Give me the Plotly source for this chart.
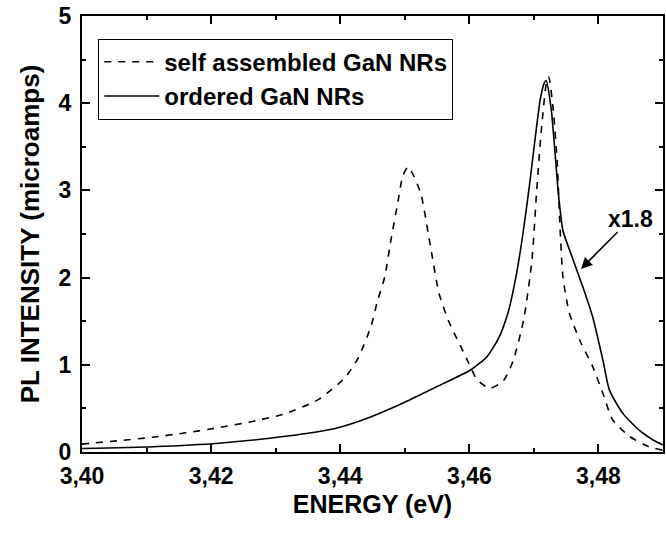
import plotly.graph_objects as go

# Self assembled GaN NRs (dashed)
sa_energy = [3.4000, 3.4012, 3.4058, 3.4110, 3.4161, 3.4212, 3.4264, 3.4315, 3.4366, 3.4407,
             3.4428, 3.4448, 3.4458, 3.4469, 3.4479, 3.4489, 3.4497, 3.4505, 3.4513, 3.4525,
             3.4540, 3.4553, 3.4568, 3.4586, 3.4599, 3.4612, 3.4632, 3.4653, 3.4668, 3.4684,
             3.4697, 3.4704, 3.4712, 3.4720, 3.4723, 3.4730, 3.4736, 3.4740, 3.4745, 3.4755,
             3.4773, 3.4791, 3.4807, 3.4822, 3.4848, 3.4878, 3.4900]
sa_int = [0.09, 0.10, 0.13, 0.17, 0.22, 0.28, 0.35, 0.44, 0.60, 0.85,
          1.08, 1.45, 1.74, 2.01, 2.45, 2.85, 3.17, 3.27, 3.18, 2.96,
          2.35, 1.82, 1.50, 1.22, 1.02, 0.83, 0.73, 0.82, 1.05, 1.51,
          2.20, 2.96, 3.73, 4.26, 4.30, 3.92, 3.34, 2.66, 2.01, 1.59,
          1.25, 0.98, 0.67, 0.37, 0.18, 0.06, 0.02]

# Ordered GaN NRs (solid)
ord_energy = [3.4000, 3.4110, 3.4212, 3.4315, 3.4392, 3.4443, 3.4500, 3.4561, 3.4602, 3.4627,
              3.4645, 3.4660, 3.4672, 3.4683, 3.4693, 3.4702, 3.4710, 3.4716, 3.4719, 3.4727,
              3.4738, 3.4745, 3.4761, 3.4776, 3.4791, 3.4807, 3.4817, 3.4838, 3.4863, 3.4884,
              3.4900]
ord_int = [0.04, 0.06, 0.10, 0.18, 0.27, 0.39, 0.57, 0.79, 0.94, 1.09,
           1.30, 1.60, 2.00, 2.50, 3.05, 3.60, 4.05, 4.23, 4.26, 3.92,
           2.96, 2.54, 2.20, 1.89, 1.55, 1.05, 0.71, 0.44, 0.25, 0.14,
           0.08]

x_tickvals = [3.40, 3.42, 3.44, 3.46, 3.48]
x_ticktext = ["3,40", "3,42", "3,44", "3,46", "3,48"]
y_tickvals = [0, 1, 2, 3, 4, 5]
y_ticktext = ["0", "1", "2", "3", "4", "5"]

FONT = "Liberation Sans, Arial, sans-serif"

fig = go.Figure()
fig.add_trace(go.Scatter(x=sa_energy, y=sa_int, mode="lines", name="self assembled GaN NRs",
                         line=dict(color="black", width=1.6, dash="7px,7px", shape="spline", smoothing=0.6)))
fig.add_trace(go.Scatter(x=ord_energy, y=ord_int, mode="lines", name="ordered GaN NRs",
                         line=dict(color="black", width=1.6, shape="spline", smoothing=0.6)))

axis_common = dict(showline=True, linecolor="black", linewidth=2, mirror="ticks",
                   ticks="inside", tickcolor="black", tickwidth=1.5, ticklen=8,
                   showgrid=False, zeroline=False,
                   tickfont=dict(family=FONT, size=23, color="black", weight="bold"))

fig.update_xaxes(range=[3.40, 3.49], tickvals=x_tickvals, ticktext=x_ticktext,
                 minor=dict(ticks="inside", ticklen=4, dtick=0.01, tick0=3.40, tickcolor="black", tickwidth=1.5),
                 title=dict(text="<b>ENERGY (eV)</b>", font=dict(family=FONT, size=25, color="black"), standoff=8),
                 ticklabelstandoff=2,
                 **axis_common)
fig.update_yaxes(range=[0, 5], tickvals=y_tickvals, ticktext=y_ticktext,
                 minor=dict(ticks="inside", ticklen=4, dtick=0.5, tick0=0, tickcolor="black", tickwidth=1.5),
                 title=dict(text="<b>PL INTENSITY (microamps)</b>", font=dict(family=FONT, size=26, color="black"), standoff=12),
                 ticklabelstandoff=4,
                 **axis_common)

fig.add_annotation(x=3.4773, y=2.10, ax=3.4832, ay=2.54, xref="x", yref="y", axref="x", ayref="y",
                   text="", showarrow=True, arrowhead=2, arrowsize=1.4, arrowwidth=1.6, arrowcolor="black")
fig.add_annotation(x=3.4850, y=2.67, xref="x", yref="y", text="<b>x1.8</b>", showarrow=False,
                   font=dict(family=FONT, size=23, color="black"))

fig.update_layout(
    width=666, height=534,
    margin=dict(l=82, r=1, t=16, b=82),
    paper_bgcolor="white", plot_bgcolor="white",
    showlegend=True,
    legend=dict(x=0.028, y=0.948, xanchor="left", yanchor="top",
                bgcolor="white", bordercolor="black", borderwidth=1,
                font=dict(family=FONT, size=24, color="black", weight="bold"),
                itemwidth=55, tracegroupgap=0),
)

fig.write_html("out.html")
